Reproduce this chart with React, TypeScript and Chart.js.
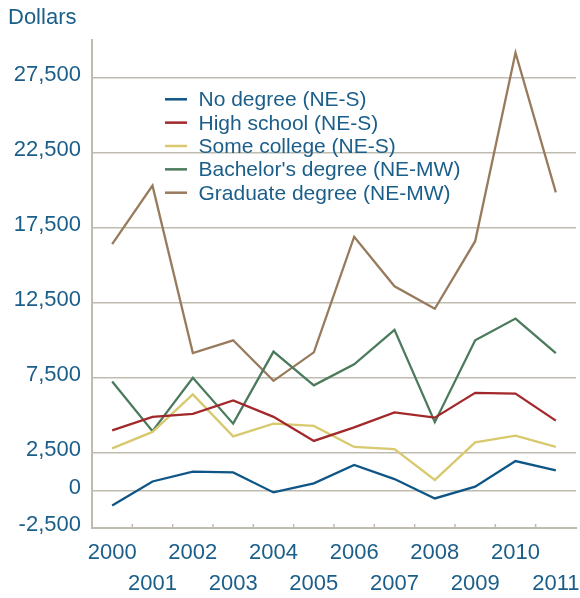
import React, { useEffect, useRef } from "react";
import { Chart, registerables } from "chart.js";

Chart.register(...registerables);

const years = ["2000","2001","2002","2003","2004","2005","2006","2007","2008","2009","2010","2011"];
const noDegree = [-1000, 600, 1250, 1200, -130, 470, 1700, 760, -530, 250, 1960, 1340];
const highSchool = [4000, 4900, 5100, 6000, 4900, 3300, 4200, 5200, 4850, 6500, 6450, 4650];
const someCollege = [2800, 3900, 6400, 3600, 4450, 4300, 2900, 2750, 700, 3200, 3650, 2900];
const bachelors = [7250, 3950, 7500, 4450, 9250, 7000, 8400, 10700, 4550, 10000, 11450, 9150];
const graduate = [16400, 20300, 9150, 10000, 7300, 9200, 16900, 13600, 12100, 16600, 29150, 19850];
const yTicks = [-2500, 0, 2500, 7500, 12500, 17500, 22500, 27500];
const seriesLabels = [
  "No degree (NE-S)",
  "High school (NE-S)",
  "Some college (NE-S)",
  "Bachelor's degree (NE-MW)",
  "Graduate degree (NE-MW)",
];
const seriesColors = ["#0f5687", "#a3282b", "#d8c96f", "#4b7a5c", "#977b5c"];

const TEXT = "#1b5e8a";
const GRID = "#bfbcaf";
const FONT = "'Liberation Sans', Arial, sans-serif";

const overlayPlugin = {
  id: "overlay",
  afterDraw(chart: any) {
    const ctx = chart.ctx;
    const area = chart.chartArea;
    const xs = chart.scales.x;
    ctx.save();
    ctx.strokeStyle = GRID;
    ctx.lineWidth = 1.5;
    for (let i = 1; i < years.length; i++) {
      const px = (xs.getPixelForValue(i - 1) + xs.getPixelForValue(i)) / 2;
      ctx.beginPath();
      ctx.moveTo(px, area.bottom);
      ctx.lineTo(px, area.bottom - 4);
      ctx.stroke();
    }
    ctx.fillStyle = TEXT;
    ctx.font = `22px ${FONT}`;
    ctx.textBaseline = "alphabetic";
    ctx.textAlign = "left";
    ctx.fillText("Dollars", 8, 24);
    ctx.font = `21px ${FONT}`;
    chart.data.datasets.forEach((ds: any, i: number) => {
      const y = 99.3 + i * 23.35;
      ctx.strokeStyle = ds.borderColor;
      ctx.lineWidth = 2.5;
      ctx.beginPath();
      ctx.moveTo(165, y);
      ctx.lineTo(187, y);
      ctx.stroke();
      ctx.fillStyle = TEXT;
      ctx.fillText(ds.label, 198.5, y + 7);
    });
    ctx.restore();
  },
};

export default function App() {
  const ref = useRef<HTMLCanvasElement>(null);
  useEffect(() => {
    document.body.style.margin = "0";
    const seriesData = [noDegree, highSchool, someCollege, bachelors, graduate];
    const chart = new Chart(ref.current!, {
      type: "line",
      data: {
        labels: years.map((y, i) => (i % 2 === 0 ? [y, ""] : ["", y])),
        datasets: seriesData.map((d, i) => ({
          label: seriesLabels[i],
          data: d,
          borderColor: seriesColors[i],
          backgroundColor: seriesColors[i],
          borderWidth: 2.3,
          pointRadius: 0,
          tension: 0,
          fill: false,
        })),
      },
      options: {
        animation: false,
        responsive: false,
        devicePixelRatio: 1,
        layout: { padding: { top: 40, right: 4, left: 0, bottom: 0 } },
        plugins: { legend: { display: false }, tooltip: { enabled: false } },
        scales: {
          x: {
            type: "category",
            offset: true,
            grid: { display: false, drawTicks: false },
            border: { display: true, color: GRID, width: 2 },
            ticks: {
              color: TEXT,
              font: { size: 22, family: FONT, lineHeight: 1.4 },
              padding: 10,
              maxRotation: 0,
              autoSkip: false,
            },
            afterFit: (s: any) => {
              s.height = 70;
              s.paddingLeft = 0;
              s.paddingRight = 0;
            },
          },
          y: {
            min: -2500,
            max: 30000,
            afterBuildTicks: (s: any) => { s.ticks = yTicks.map((v) => ({ value: v })); },
            grid: { color: GRID, lineWidth: 1.5, drawTicks: false },
            border: { display: true, color: GRID, width: 2 },
            ticks: {
              color: TEXT,
              font: { size: 22, family: FONT },
              padding: 11,
              labelOffset: -3,
              callback: (v: any) => Number(v).toLocaleString("en-US"),
            },
            afterFit: (s: any) => {
              s.width = 92;
              s.paddingTop = 0;
              s.paddingBottom = 0;
            },
          },
        },
      },
      plugins: [overlayPlugin],
    });
    return () => chart.destroy();
  }, []);
  return (
    <div style={{ position: "fixed", left: 0, top: 0, width: 580, height: 598, background: "#fff" }}>
      <canvas ref={ref} width={580} height={598} />
    </div>
  );
}
